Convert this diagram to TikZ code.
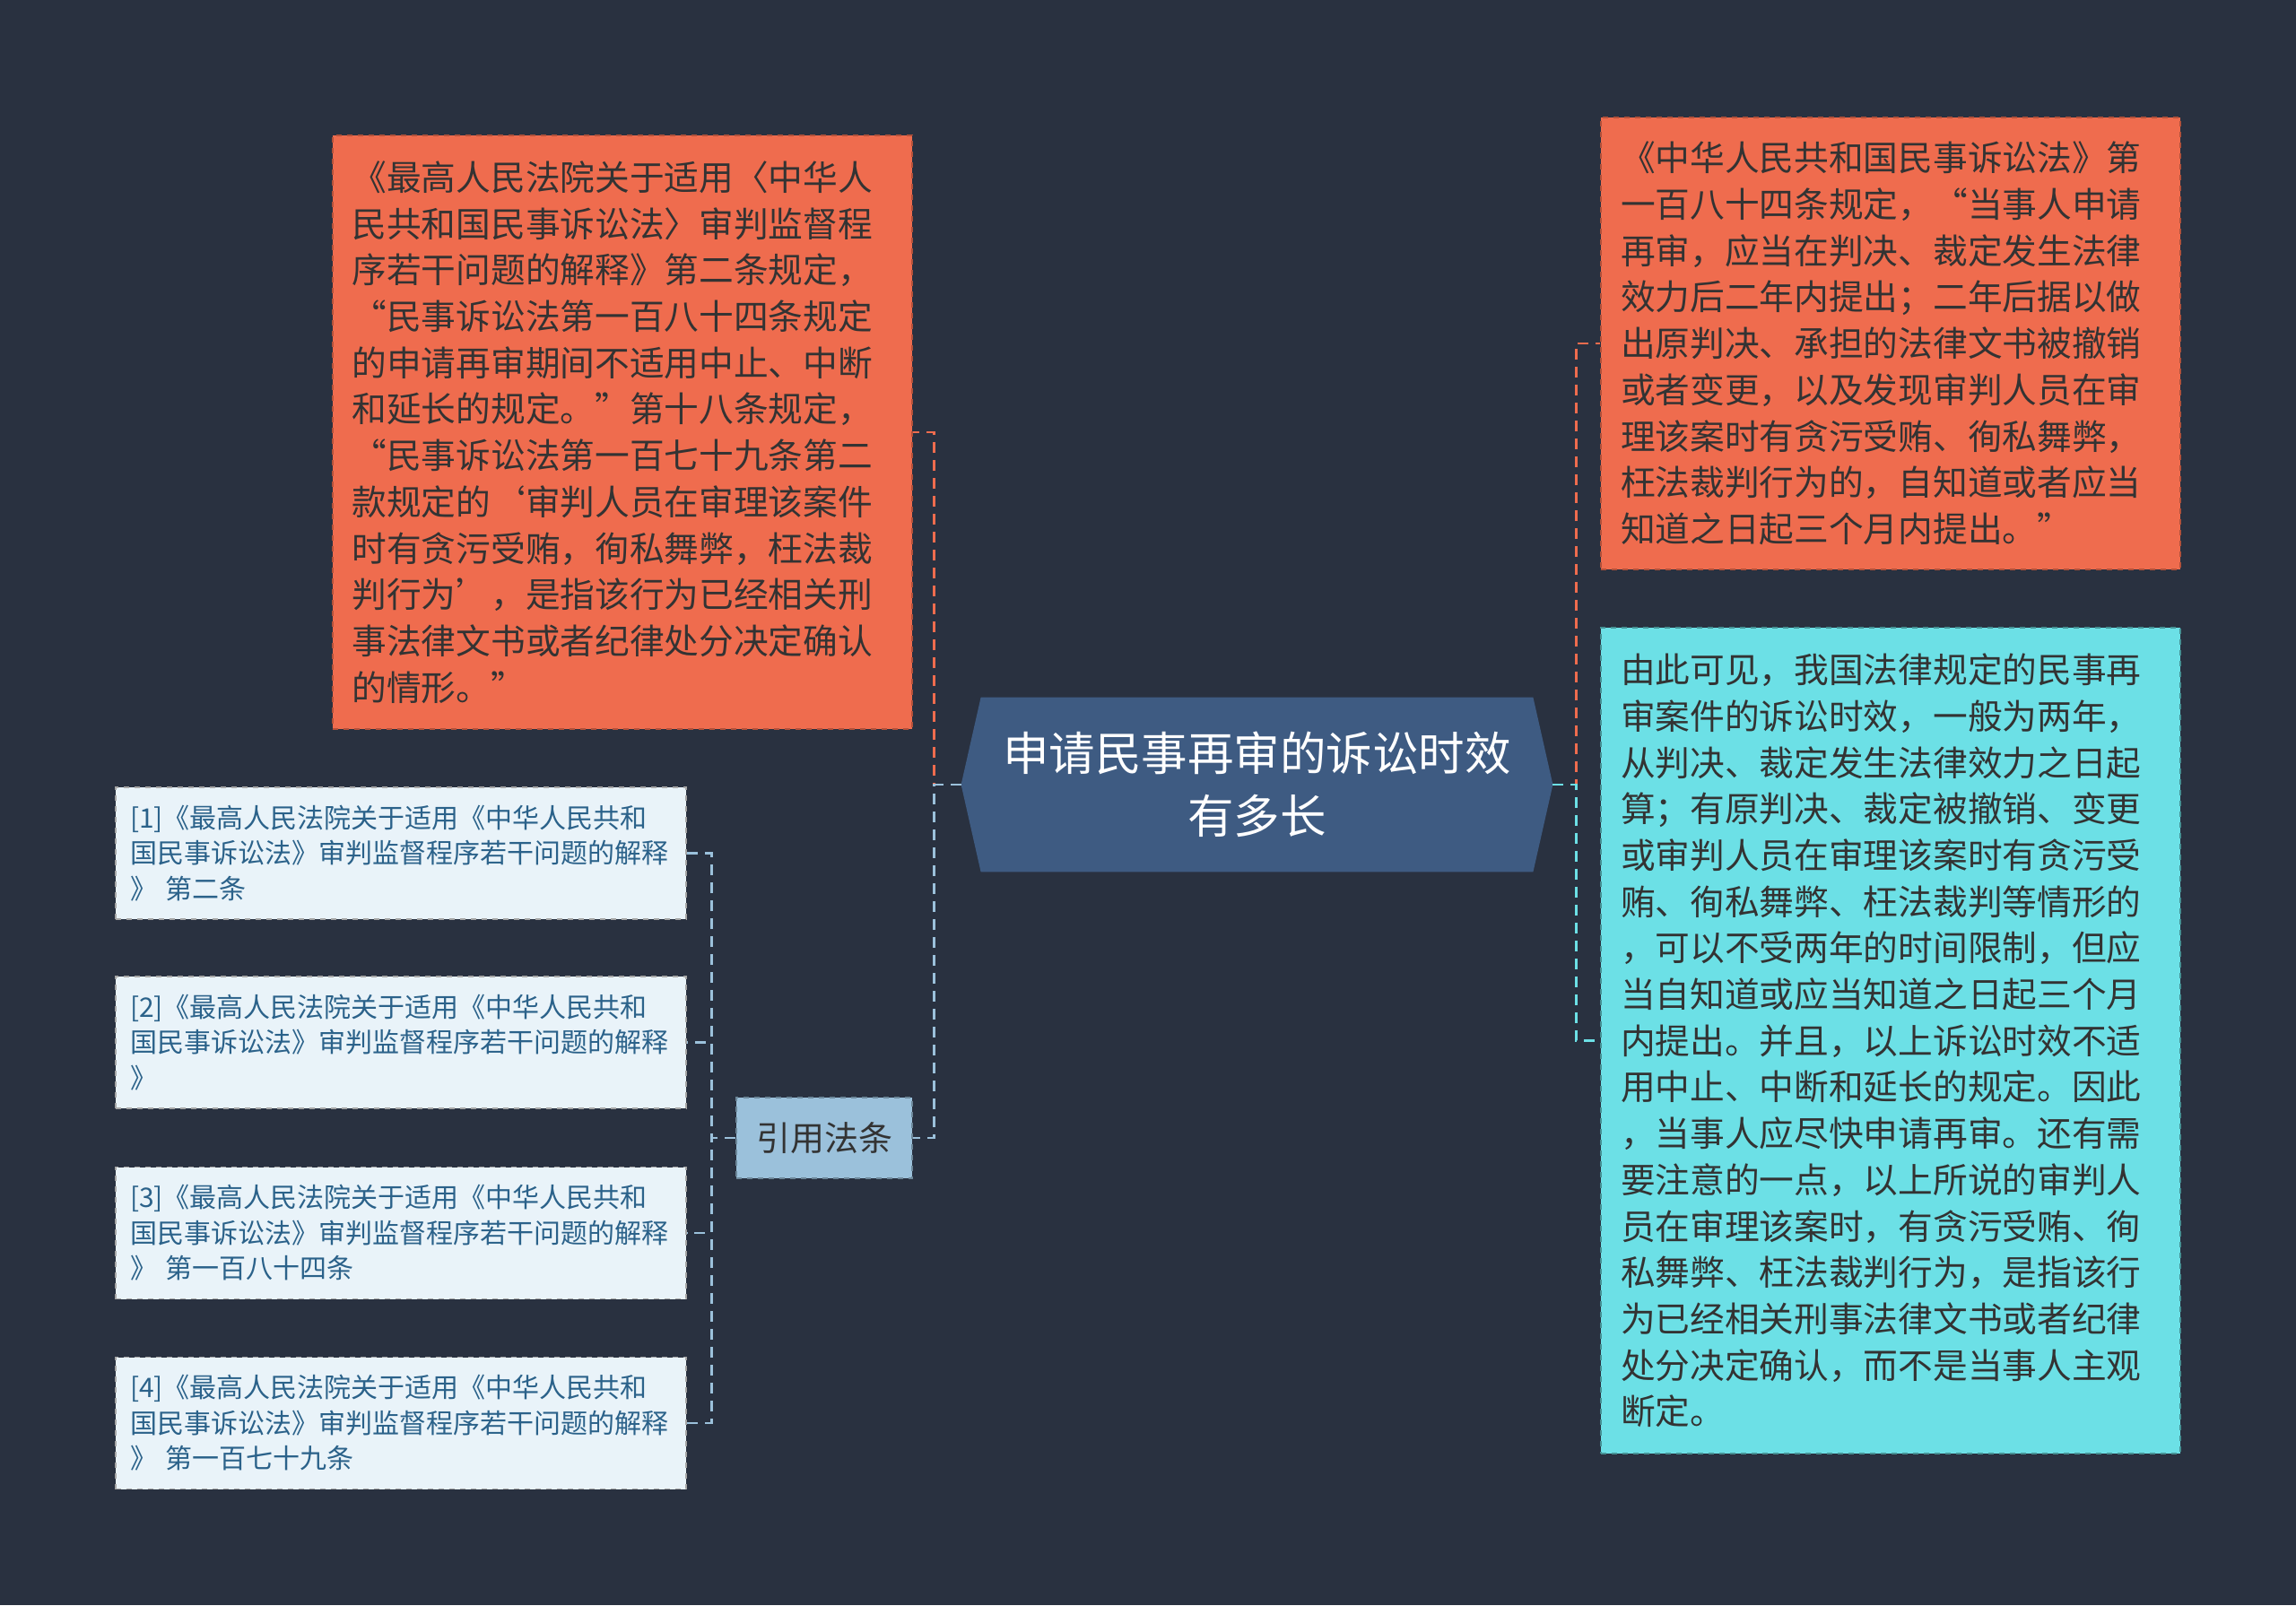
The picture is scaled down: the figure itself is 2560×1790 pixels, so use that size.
\documentclass[tikz,border=0pt]{standalone}
\usepackage{fontspec}
\setmainfont{Noto Sans CJK SC}
\usetikzlibrary{calc,backgrounds}
\definecolor{bgc}{HTML}{293140}
\definecolor{orc}{HTML}{EF6C4E}
\definecolor{cyc}{HTML}{6CE0E6}
\definecolor{ltc}{HTML}{E9F3F9}
\definecolor{blc}{HTML}{9BC1DB}
\definecolor{rootc}{HTML}{3E5B82}
\definecolor{citec}{HTML}{2B628A}
\definecolor{darktxt}{HTML}{333333}
\begin{document}
\begin{tikzpicture}[x=0.5pt,y=-0.5pt,
  conn/.style={line width=1.3pt, dash pattern=on 6pt off 4pt},
  bigbox/.style={rectangle, inner sep=0pt, align=left, text width=301.5pt,
     font=\fontsize{19.35pt}{25.85pt}\selectfont, line width=0.8pt, dashed},
  orbox/.style={bigbox, fill=orc, draw=orc!75!black, text=darktxt},
  cybox/.style={bigbox, fill=cyc, draw=cyc!65!black, text=black!80},
  citebox/.style={rectangle, inner sep=0pt, align=left, text width=302pt,
     minimum width=318pt, minimum height=73.5pt, fill=ltc, draw=black!35, dashed,
     line width=0.8pt, text=citec, font=\fontsize{15pt}{19.75pt}\selectfont},
  yinbox/.style={rectangle, inner sep=0pt, minimum width=98pt, minimum height=45pt,
     fill=blc, draw=blc!70!black, dashed, line width=0.8pt, text=darktxt,
     font=\fontsize{19pt}{24pt}\selectfont},
  rootbox/.style={rectangle, inner sep=0pt, minimum width=329.5pt, minimum height=97pt,
     align=center, text=white, font=\fontsize{25.75pt}{35pt}\selectfont}]
\useasboundingbox (0,0) rectangle (2560,1790);
\begin{scope}[on background layer]
\fill[bgc] (0,0) rectangle (2560,1790);
\end{scope}

% root
\node[rootbox] (root) at (1401.5,875) {申请民事再审的诉讼时效\\有多长};
\begin{scope}[on background layer]
\fill[rootc] (root.west) -- ($(root.north west)+(22,0)$) -- ($(root.north east)+(-22,0)$)
  -- (root.east) -- ($(root.south east)+(-22,0)$) -- ($(root.south west)+(22,0)$) -- cycle;
\end{scope}

% top-left orange
\node[orbox, minimum width=323pt, minimum height=331pt] (tl) at (694,482) {%
《最高人民法院关于适用〈中华人\\
民共和国民事诉讼法〉审判监督程\\
序若干问题的解释》第二条规定，\\
“民事诉讼法第一百八十四条规定\\
的申请再审期间不适用中止、中断\\
和延长的规定。”第十八条规定，\\
“民事诉讼法第一百七十九条第二\\
款规定的‘审判人员在审理该案件\\
时有贪污受贿，徇私舞弊，枉法裁\\
判行为’，是指该行为已经相关刑\\
事法律文书或者纪律处分决定确认\\
的情形。”};

% top-right orange
\node[orbox, minimum width=323pt, minimum height=252pt, text width=301pt] (tr) at (2108,383) {%
《中华人民共和国民事诉讼法》第\\
一百八十四条规定，“当事人申请\\
再审，应当在判决、裁定发生法律\\
效力后二年内提出；二年后据以做\\
出原判决、承担的法律文书被撤销\\
或者变更，以及发现审判人员在审\\
理该案时有贪污受贿、徇私舞弊，\\
枉法裁判行为的，自知道或者应当\\
知道之日起三个月内提出。”};

% right cyan
\node[cybox, minimum width=323pt, minimum height=460.5pt, text width=301pt] (cy) at (2108,1160.5) {%
由此可见，我国法律规定的民事再\\
审案件的诉讼时效，一般为两年，\\
从判决、裁定发生法律效力之日起\\
算；有原判决、裁定被撤销、变更\\
或审判人员在审理该案时有贪污受\\
贿、徇私舞弊、枉法裁判等情形的\\
，可以不受两年的时间限制，但应\\
当自知道或应当知道之日起三个月\\
内提出。并且，以上诉讼时效不适\\
用中止、中断和延长的规定。因此\\
，当事人应尽快申请再审。还有需\\
要注意的一点，以上所说的审判人\\
员在审理该案时，有贪污受贿、徇\\
私舞弊、枉法裁判行为，是指该行\\
为已经相关刑事法律文书或者纪律\\
处分决定确认，而不是当事人主观\\
断定。};

% citation node
\node[yinbox] (yin) at (919,1269) {引用法条};

\node[citebox] (c1) at (447,951.5) {[1]《最高人民法院关于适用《中华人民共和\\国民事诉讼法》审判监督程序若干问题的解释\\》 第二条};
\node[citebox] (c2) at (447,1162.5) {[2]《最高人民法院关于适用《中华人民共和\\国民事诉讼法》审判监督程序若干问题的解释\\》};
\node[citebox] (c3) at (447,1375) {[3]《最高人民法院关于适用《中华人民共和\\国民事诉讼法》审判监督程序若干问题的解释\\》 第一百八十四条};
\node[citebox] (c4) at (447,1587) {[4]《最高人民法院关于适用《中华人民共和\\国民事诉讼法》审判监督程序若干问题的解释\\》 第一百七十九条};

% connectors
\draw[conn, orc] (root.west) -- ++(-30,0) |- (tl.east);
\draw[conn, blc] (root.west) -- ++(-30,0) |- (yin.east);
\draw[conn, orc] (root.east) -- ++(26,0) |- (tr.west);
\draw[conn, cyc] (root.east) -- ++(26,0) |- (cy.west);
\foreach \c in {c1,c2,c3,c4}{
  \draw[conn, blc] (yin.west) -- ++(-27,0) |- (\c.east);
}
\end{tikzpicture}
\end{document}
